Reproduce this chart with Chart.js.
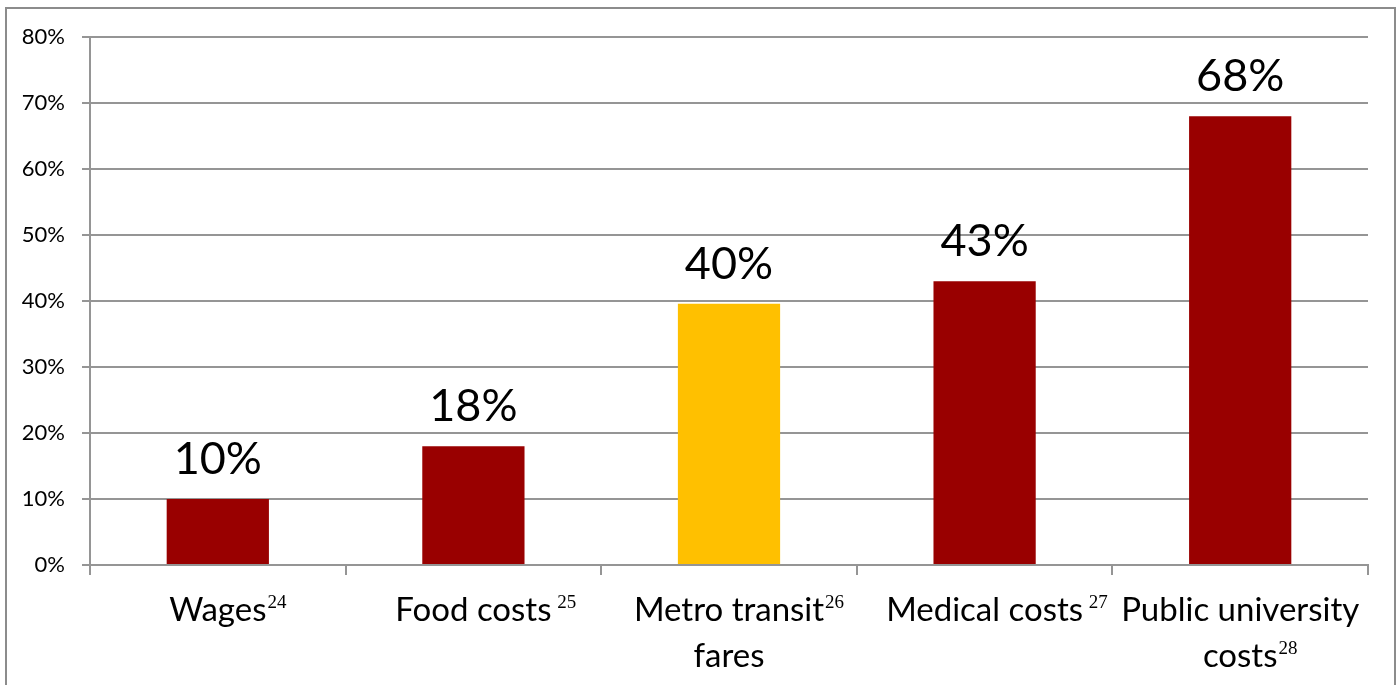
<!DOCTYPE html>
<html>
<head>
<meta charset="utf-8">
<script src="https://cdn.jsdelivr.net/npm/chart.js@4"></script>
<style>
  html, body { margin: 0; padding: 0; background: #fff; }
  #wrap { width: 1400px; height: 685px; }
</style>
</head>
<body>
<div id="wrap"><canvas id="chart" width="1400" height="685"></canvas></div>
<script>
// Categories, split into the lines shown under the axis
const categories = [
  ["Wages"],
  ["Food costs"],
  ["Metro transit", "fares"],
  ["Medical costs"],
  ["Public university", "costs"]
];
// Footnote numbers and the line each one sits on
const footnotes = ["24", " 25", "26", " 27", "28"];
const footnoteLine = [0, 0, 0, 0, 1];
// Increase, in percent
const increases = [10, 18, 39.6, 43, 68];
const barColors = ["#990000", "#990000", "#FFC000", "#990000", "#990000"];
const yTicks = [0, 10, 20, 30, 40, 50, 60, 70, 80];

const gridGray = "#959595";
const sans = "Lato, 'Open Sans', sans-serif";
const serif = "'Liberation Serif', 'DejaVu Serif', serif";

// Frame around the whole figure
const framePlugin = {
  id: "frame",
  beforeDraw(chart) {
    const ctx = chart.ctx;
    ctx.save();
    ctx.fillStyle = "#fff";
    ctx.fillRect(0, 0, chart.width, chart.height);
    ctx.strokeStyle = "#8c8c8c";
    ctx.lineWidth = 2;
    ctx.strokeRect(6, 8, 1389, 720);
    ctx.restore();
  }
};

// Value labels above each bar
const valueLabels = {
  id: "valueLabels",
  afterDatasetsDraw(chart) {
    const ctx = chart.ctx;
    const meta = chart.getDatasetMeta(0);
    ctx.save();
    ctx.font = "45px " + sans;
    ctx.fillStyle = "#000";
    ctx.textAlign = "center";
    ctx.textBaseline = "alphabetic";
    meta.data.forEach((bar, i) => {
      ctx.fillText(Math.round(increases[i]) + "%", bar.x, bar.y - 25);
    });
    ctx.restore();
  }
};

// Category names with superscript footnotes
const categoryLabels = {
  id: "categoryLabels",
  afterDraw(chart) {
    const ctx = chart.ctx;
    const xs = chart.scales.x;
    ctx.save();
    ctx.fillStyle = "#000";
    ctx.textBaseline = "alphabetic";
    categories.forEach((lines, i) => {
      const cx = xs.getPixelForValue(i);
      lines.forEach((line, j) => {
        const y = xs.top + 56 + j * 46;
        ctx.font = "33px " + sans;
        ctx.textAlign = "center";
        ctx.fillText(line, cx, y);
        if (footnoteLine[i] === j) {
          const w = ctx.measureText(line).width;
          ctx.font = "19px " + serif;
          ctx.textAlign = "left";
          ctx.fillText(footnotes[i], cx + w / 2 + 1, y - 13);
        }
      });
    });
    ctx.restore();
  }
};

new Chart(document.getElementById("chart"), {
  type: "bar",
  data: {
    labels: categories.map(l => l.join(" ")),
    datasets: [{
      data: increases,
      backgroundColor: barColors,
      borderWidth: 0,
      categoryPercentage: 1,
      barPercentage: 0.4
    }]
  },
  options: {
    responsive: false,
    animation: false,
    layout: { padding: { top: 37, right: 32, left: 0, bottom: 0 } },
    plugins: {
      legend: { display: false },
      tooltip: { enabled: false }
    },
    scales: {
      x: {
        offset: true,
        grid: {
          offset: true,
          drawOnChartArea: false,
          drawTicks: true,
          tickLength: 10,
          color: gridGray,
          lineWidth: 2
        },
        border: { color: gridGray, width: 2 },
        ticks: { display: false },
        afterFit(scale) { scale.height = 120; }
      },
      y: {
        min: 0,
        max: 80,
        afterBuildTicks(scale) {
          scale.ticks = yTicks.map(v => ({ value: v }));
        },
        grid: {
          color: gridGray,
          lineWidth: 2,
          drawTicks: true,
          tickLength: 8
        },
        border: { color: gridGray, width: 2 },
        ticks: {
          padding: 17,
          color: "#000",
          font: { family: sans, size: 22 },
          callback: v => v + "%"
        },
        afterFit(scale) { scale.width = 90; }
      }
    }
  },
  plugins: [framePlugin, valueLabels, categoryLabels]
});
</script>
</body>
</html>
